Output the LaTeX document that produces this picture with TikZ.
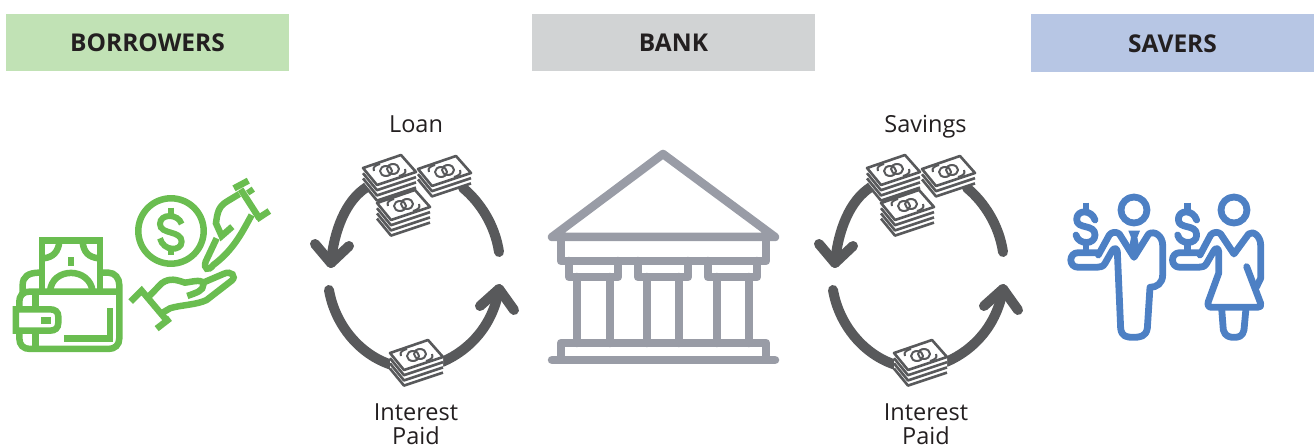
\documentclass[tikz,border=0pt]{standalone}
\usepackage{fontspec}
\setmainfont{Open Sans}
\definecolor{hgreen}{HTML}{C1E2B5}
\definecolor{hgrey}{HTML}{D1D3D4}
\definecolor{hblue}{HTML}{B7C6E4}
\definecolor{igreen}{HTML}{6ABD50}
\definecolor{iblue}{HTML}{4D80C4}
\definecolor{igrey}{HTML}{999CA6}
\definecolor{idark}{HTML}{58595B}
\definecolor{txt}{HTML}{231F20}
\tikzset{
  header/.style={minimum width=283pt,minimum height=57pt,inner sep=0pt,text=txt,font=\fontsize{24.5}{26}\selectfont\bfseries},
  lbl/.style={text=txt,font=\fontsize{23.5}{24}\selectfont,inner sep=0pt,anchor=base},
  cyc/.style={draw=idark,line width=10pt,line cap=round,line join=round},
  bankline/.style={draw=igrey,line width=8.5pt,line cap=round,line join=round},
  grn/.style={draw=igreen,line width=6.5pt,line join=miter},
  blu/.style={draw=iblue,line width=6.8pt,line join=round,line cap=round},
  zoomed/.style={x=0.3333pt,y=-0.3333pt},
  bill/.style={draw=idark,line width=2.6pt,line join=round},
}
\newcommand{\moneystack}[3]{%
 \begin{scope}[shift={(#1,#2)}]
  \fill[white] (0,0)--(38,-13)--(53,4)--(53,{4+#3*5.2})--(14,{17+#3*5.2})--(0,{#3*5.2})--cycle;
  \draw[bill] (0,0)--(38,-13)--(53,4)--(14,17)--cycle;
  \draw[bill,line width=2pt] (11,3) .. controls (9,-1) and (13,-3) .. (17,-4);
  \draw[bill,line width=2pt] (42,1) .. controls (44,5) and (40,7) .. (36,8);
  \draw[bill,line width=2pt] (23,3) circle[x radius=6pt,y radius=5pt];
  \draw[bill,line width=2pt] (30,1) circle[x radius=6pt,y radius=5pt];
  \foreach \k in {1,...,#3}{
    \draw[bill] (0,{\k*5.2})--(14,{17+\k*5.2})--(53,{4+\k*5.2});
  }
 \end{scope}}
\newcommand{\cycleicon}[2]{%
 \begin{scope}[xshift=#1pt]
  \coordinate (#2tl) at (367,187); \coordinate (#2tlend) at (331,263);
  \coordinate (#2tr) at (463,188); \coordinate (#2trend) at (499,252);
  \coordinate (#2bl) at (329,290); \coordinate (#2blend) at (392,365);
  \coordinate (#2br) at (442,362); \coordinate (#2brend) at (499,289);
  \draw[cyc] (#2tl) .. controls (346,200) and (334,230) .. (#2tlend);
  \draw[cyc] (#2tr) .. controls (480,202) and (495,225) .. (#2trend);
  \draw[cyc] (#2bl) .. controls (335,325) and (360,355) .. (#2blend);
  \draw[cyc] (#2br) .. controls (470,350) and (493,325) .. (#2brend);
  \draw[cyc] (315,244)--(#2tlend)--(349,246);
  \draw[cyc] (480,306)--(#2brend)--(514,310);
  \moneystack{363}{168}{3}
  \moneystack{418}{169}{2}
  \moneystack{377}{203}{3}
  \moneystack{390}{353}{3}
 \end{scope}}
\begin{document}
\begin{tikzpicture}[x=1pt,y=-1pt]
\useasboundingbox (0,0) rectangle (1314,446);
% headers
\fill[hgreen] (6,14) rectangle (289,71);
\fill[hgrey] (532,14) rectangle (815,71);
\fill[hblue] (1031,14) rectangle (1314,72);
\node[lbl,font=\fontsize{24.5}{26}\selectfont\bfseries] (borrowers) at (147.5,52) {BORROWERS};
\node[lbl,font=\fontsize{24.5}{26}\selectfont\bfseries] (bank) at (673.5,52) {BANK};
\node[lbl,font=\fontsize{24.5}{26}\selectfont\bfseries] (savers) at (1172.5,52.5) {SAVERS};
% labels
\node[lbl] (loan) at (416,133) {Loan};
\node[lbl] (savings) at (925.5,133) {Savings};
\node[lbl] (int1) at (416,420) {Interest};
\node[lbl] (paid1) at (416,444.5) {Paid};
\node[lbl] (int2) at (926,420) {Interest};
\node[lbl] (paid2) at (926,444.5) {Paid};
% cycles
\cycleicon{0}{a}
\cycleicon{504}{b}
% bank
\draw[bankline] (552,237)--(663,154)--(775,237)--cycle;
\draw[bankline] (561,237) rectangle (766,261);
\foreach \x/\y in {569/618,638/688,708/757}{
  \draw[bankline] (\x,261)--(\x,277)--(\y,277)--(\y,261);
}
\foreach \x in {577,610,647,679,717,749}{
  \draw[bankline] (\x,277)--(\x,343);
}
\draw[bankline] (561,359)--(561,343)--(766,343)--(766,359);
\draw[bankline] (552,360)--(775,360);
% borrowers icon
\begin{scope}[shift={(0,170)},zoomed]
 % coin
 \draw[grn] (513,183) circle[radius=32.7pt];
 \draw[grn,line width=6pt] (545,162) .. controls (535,130) and (480,130) .. (480,162) .. controls (480,195) and (545,180) .. (545,215) .. controls (545,245) and (490,245) .. (480,205);
 \draw[grn,line width=6pt] (512,113)--(512,138) (512,235)--(512,256);
 % top hand
 \draw[grn] (702,55)--(745,32) (722,58)--(778,145) (770,148)--(808,123);
 \fill[igreen] (738,62)--(755,50)--(765,65)--(748,76)--cycle;
 \draw[grn] (718,72)--(680,95) .. controls (655,110) and (652,130) .. (648,160) -- (665,198) -- (697,170);
 \draw[grn] (650,205) -- (617,275) .. controls (610,298) and (625,305) .. (640,285) .. controls (700,240) and (725,190) .. (755,135);
 % lower hand
 \draw[grn] (392,395)--(425,362)--(495,445) (470,476)--(510,445);
 \draw[grn] (448,378)--(485,340) .. controls (510,322) and (530,330) .. (555,338) .. controls (580,335) and (610,325) .. (610,345) .. controls (610,362) and (590,368) .. (562,378);
 \draw[grn] (600,342) -- (670,312) .. controls (695,300) and (710,320) .. (695,332) -- (620,390) .. controls (590,405) and (540,405) .. (510,415) -- (488,428);
 % wallet
 \draw[grn] (68,375)--(68,345) .. controls (68,320) and (85,308) .. (118,308);
 \draw[grn] (305,308)--(325,308) .. controls (345,308) and (358,325) .. (358,345) -- (358,505) .. controls (358,525) and (345,537) .. (325,537) -- (90,537) .. controls (70,537) and (58,525) .. (58,505) -- (58,480);
 \draw[grn] (58,418)--(58,395) .. controls (58,380) and (65,365) .. (90,365) -- (358,365);
 \draw[grn] (106,365)--(106,410) (106,490)--(106,537);
 \draw[grn] (48,418)--(150,418) .. controls (165,418) and (175,425) .. (175,440) -- (175,458) .. controls (175,475) and (165,482) .. (150,482) -- (48,482) -- cycle;
 \fill[igreen] (123,440) rectangle (152,462);
 \draw[grn] (192,506)--(330,506)--(330,413);
 % cash
 \draw[grn] (126,365)--(126,212)--(300,212)--(300,365);
 \draw[grn] (130,265) .. controls (160,262) and (175,245) .. (178,215);
 \draw[grn] (296,265) .. controls (265,262) and (250,245) .. (248,215);
 \fill[igreen] (203,260) rectangle (223,287);
 \draw[grn] (150,365) .. controls (155,290) and (270,290) .. (278,365);
\end{scope}
% savers icon
\begin{scope}[shift={(1050,180)},zoomed]
 % man
 \draw[blu] (252,90) circle[radius=13pt];
 \draw[blu] (145,225)--(178,165) .. controls (185,155) and (200,155) .. (208,162) -- (252,232) -- (296,162) .. controls (315,150) and (338,170) .. (338,195) -- (338,285) .. controls (338,310) and (320,322) .. (300,322) -- (292,445) .. controls (288,470) and (270,472) .. (250,472) .. controls (230,472) and (215,470) .. (212,445) -- (202,215) .. controls (200,200) and (190,205) .. (185,215) -- (165,250) .. controls (160,260) and (150,262) .. (140,262) -- (85,262) .. controls (55,262) and (55,218) .. (85,218) -- (145,218);
 \fill[iblue] (235,152)--(270,152)--(262,172)--(270,215)--(252,240)--(235,215)--(243,172)--cycle;
 % man's dollar
 \draw[blu] (135,120) .. controls (125,88) and (80,88) .. (80,118) .. controls (80,150) and (135,130) .. (135,165) .. controls (135,195) and (85,195) .. (78,165);
 \draw[blu,line cap=butt] (108,68)--(108,92) (108,188)--(108,218);
 % woman
 \draw[blu] (552,90) circle[radius=13pt];
 \draw[blu] (450,225)--(482,165) .. controls (490,155) and (505,155) .. (512,162) -- (552,222) -- (596,162) .. controls (610,150) and (632,170) .. (632,195) -- (632,295) -- (620,320);
 \draw[blu] (590,260)--(632,370) .. controls (635,378) and (630,382) .. (622,382) -- (485,382) .. controls (475,382) and (472,375) .. (475,365) -- (506,280) -- (506,215) .. controls (505,200) and (495,205) .. (490,215) -- (470,250) .. controls (465,260) and (455,262) .. (445,262) -- (390,262) .. controls (360,262) and (360,218) .. (390,218) -- (450,218);
 \draw[blu] (515,385)--(520,450) .. controls (525,470) and (540,472) .. (552,472) .. controls (565,472) and (578,470) .. (582,450) -- (588,385);
 % woman's dollar
 \draw[blu] (440,120) .. controls (430,88) and (385,88) .. (385,118) .. controls (385,150) and (440,130) .. (440,165) .. controls (440,195) and (390,195) .. (383,165);
 \draw[blu,line cap=butt] (413,68)--(413,92) (413,188)--(413,218);
\end{scope}
\end{tikzpicture}
\end{document}
